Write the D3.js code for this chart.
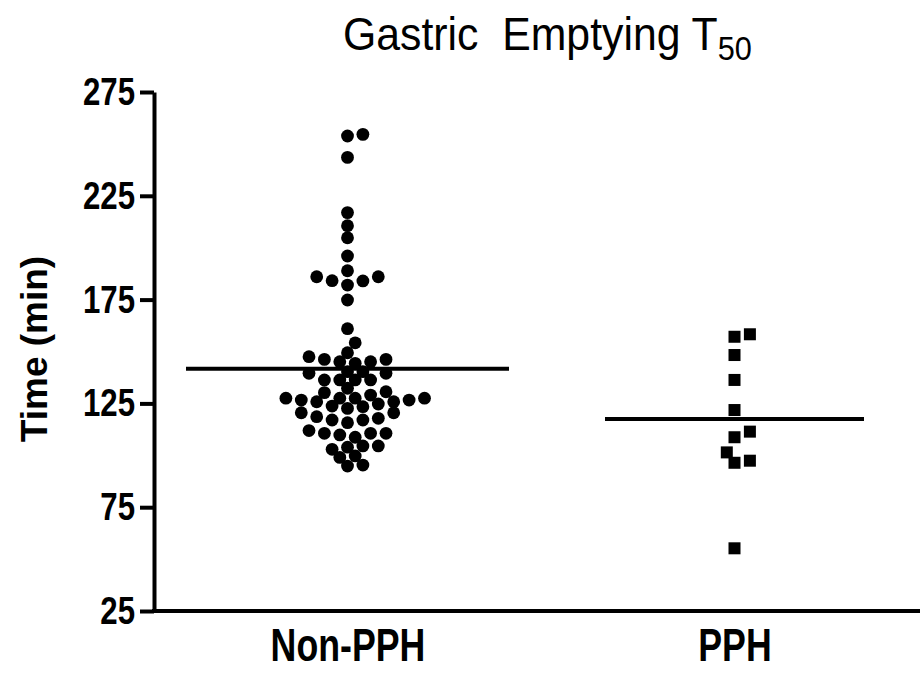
<!DOCTYPE html>
<html>
<head>
<meta charset="utf-8">
<script src="https://cdn.jsdelivr.net/npm/d3@7"></script>
<style>
  html, body { margin: 0; padding: 0; background: #fff; }
  text { font-family: "Liberation Sans", Arial, sans-serif; fill: #000; }
</style>
</head>
<body>
<div id="chart"></div>
<script>
// values
const groups = ["Non-PPH", "PPH"];
const nonPPH = [
  253.8, 254.6, 243.5, 216.9, 210.6, 204.8, 196, 186, 184, 184.1, 182, 186, 188.9,
  174.8, 161, 154.2, 149.4, 146.2, 145.1, 144.3, 145.1, 146.2, 147.5,
  140.3, 139.5, 139.5, 140.3, 136.3, 136.3, 136.3, 136.3,
  130.6, 129, 132.3, 130.2, 125.8, 127.5, 127.5, 126.6, 126.6, 127.5, 127.5, 124.7, 125.8,
  123.4, 122.6, 123.7, 120.5, 118.6, 120.5, 117, 115.7, 117, 117.8,
  109.8, 110.6, 110.6, 110.6, 111.9, 108.7, 104.5, 103.9, 104.5, 102.9,
  99.7, 99, 94.8, 95.3
];
const pph = [157.1, 158.3, 148.3, 136.3, 121.8, 111.4, 108.7, 101.4, 97.4, 96.4, 55.2];
const yTicks = [25, 75, 125, 175, 225, 275];

const width = 920, height = 673;
const axisX = 154, axisBottom = 611, axisTop = 92;
const squeeze = 0.8; // condensed look of the labels

const svg = d3.select("#chart").append("svg")
  .attr("width", width)
  .attr("height", height);

const y = d3.scaleLinear().domain([25, 275]).range([axisBottom, axisTop]);
const x = d3.scalePoint().domain(groups).range([axisX, 928]).padding(0.5);

// simple beeswarm, nearest free slot from the column centre
function swarm(values, cx, step, minDist) {
  const placed = [];
  values.slice().sort((a, b) => a - b).forEach(v => {
    const py = y(v);
    for (let k = 0; k < 60; k++) {
      const off = k === 0 ? 0 : (k % 2 ? Math.ceil(k / 2) : -k / 2) * step;
      const px = cx + off;
      if (placed.every(p => Math.hypot(p.x - px, p.y - py) >= minDist)) {
        placed.push({ x: px, y: py, v: v });
        break;
      }
    }
  });
  return placed;
}

// axes
const yAxis = svg.append("g")
  .attr("transform", `translate(${axisX},0)`)
  .call(d3.axisLeft(y).tickValues(yTicks).tickSize(14).tickSizeOuter(0).tickPadding(5));
yAxis.select(".domain").attr("stroke-width", 4).attr("stroke", "#000");
yAxis.selectAll(".tick line").attr("stroke-width", 4).attr("stroke", "#000");
yAxis.selectAll(".tick text")
  .attr("x", -19 / squeeze)
  .attr("transform", `scale(${squeeze},1)`)
  .style("font-size", "39px").style("font-weight", "bold");

const xAxis = svg.append("g")
  .attr("transform", `translate(0,${axisBottom})`)
  .call(d3.axisBottom(x).tickSize(0).tickSizeOuter(0).tickPadding(17));
xAxis.select(".domain").attr("stroke-width", 4).attr("stroke", "#000")
  .attr("d", `M${axisX - 2},0H${width}`);
xAxis.selectAll(".tick text")
  .attr("transform", "scale(0.76,1)")
  .style("font-size", "47px").style("font-weight", "bold");

// points
const dots = swarm(nonPPH, x("Non-PPH"), 7.7, 11);
svg.append("g").selectAll("circle")
  .data(dots)
  .join("circle")
  .attr("cx", d => d.x)
  .attr("cy", d => d.y)
  .attr("r", 6.4)
  .attr("fill", "#000");

const squares = swarm(pph, x("PPH"), 7.7, 11.5);
svg.append("g").selectAll("rect")
  .data(squares)
  .join("rect")
  .attr("x", d => d.x - 6)
  .attr("y", d => d.y - 6)
  .attr("width", 12)
  .attr("height", 12)
  .attr("fill", "#000");

// mean lines
const means = [
  { g: "Non-PPH", m: d3.mean(nonPPH), half: 161.5 },
  { g: "PPH", m: d3.mean(pph), half: 129.5 }
];
svg.append("g").selectAll("line")
  .data(means)
  .join("line")
  .attr("x1", d => x(d.g) - d.half)
  .attr("x2", d => x(d.g) + d.half)
  .attr("y1", d => y(d.m))
  .attr("y2", d => y(d.m))
  .attr("stroke", "#000")
  .attr("stroke-width", 4);

// title
const titleSqueeze = 0.93;
const title = svg.append("text")
  .attr("x", 343 / titleSqueeze)
  .attr("y", 50)
  .attr("transform", `scale(${titleSqueeze},1)`)
  .style("font-size", "46px");
title.append("tspan").text("Gastric\u00a0 Emptying T");
title.append("tspan").attr("dy", 10).style("font-size", "33px").text("50");

// y label
svg.append("text")
  .attr("transform", "translate(34,349) rotate(-90)")
  .attr("text-anchor", "middle")
  .attr("dy", "0.35em")
  .style("font-size", "37px")
  .style("font-weight", "bold")
  .text("Time (min)");
</script>
</body>
</html>
